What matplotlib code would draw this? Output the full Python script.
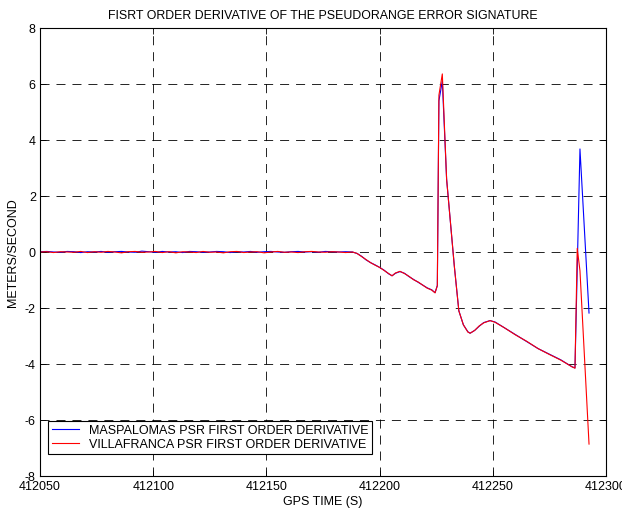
import matplotlib
matplotlib.use("Agg")
import matplotlib.pyplot as plt
import numpy as np

plt.rcParams['font.family'] = ['Liberation Sans', 'DejaVu Sans']
plt.rcParams['lines.scale_dashes'] = False

# Flat segment (sampled every 3 s)
flat_t = list(range(412050, 412189, 3))
flat_m = [0.01, 0.02, 0.00, -0.01, 0.02, 0.01, -0.02, 0.01, 0.00, 0.02, -0.01, 0.01,
          0.02, 0.00, -0.01, 0.03, 0.01, -0.01, 0.02, 0.00, 0.01, -0.02, 0.02, 0.01,
          -0.01, 0.00, 0.02, 0.01, -0.02, 0.01, 0.00, 0.02, -0.01, 0.01, 0.02, 0.00,
          -0.01, 0.01, 0.02, 0.00, 0.01, -0.01, 0.02, 0.01, 0.00, 0.01, 0.00]
flat_v = [0.00, 0.01, -0.02, 0.01, 0.00, -0.01, 0.02, -0.02, 0.01, -0.01, 0.02, 0.00,
          -0.03, 0.01, 0.02, -0.01, 0.00, 0.02, -0.02, 0.01, -0.03, 0.01, 0.00, -0.02,
          0.02, -0.01, 0.00, -0.03, 0.01, 0.02, -0.02, 0.00, 0.01, -0.03, 0.00, 0.02,
          -0.01, 0.00, -0.02, 0.01, 0.02, 0.00, -0.01, 0.01, 0.00, -0.02, 0.00]

# Dynamic segment
dyn_t = [412190, 412192, 412194, 412196, 412198, 412200, 412202, 412204, 412205.5,
         412207, 412209, 412211, 412213, 412215, 412217, 412219, 412221, 412223,
         412224.5, 412225.5, 412226.2, 412227.7, 412229.6, 412233, 412235, 412237,
         412239, 412240, 412242, 412244, 412246, 412248.8, 412251, 412255, 412260,
         412265, 412270, 412275, 412280, 412285, 412286.3]
dyn_m = [-0.05, -0.15, -0.28, -0.38, -0.46, -0.55, -0.65, -0.78, -0.85,
         -0.76, -0.70, -0.76, -0.88, -0.98, -1.08, -1.18, -1.28, -1.35,
         -1.45, -1.20, 5.40, 6.10, 2.60, -0.50, -2.10, -2.60,
         -2.85, -2.90, -2.80, -2.65, -2.52, -2.45, -2.50, -2.70, -2.95,
         -3.20, -3.45, -3.65, -3.85, -4.10, -4.14]
dyn_v = [-0.05, -0.16, -0.27, -0.38, -0.47, -0.55, -0.66, -0.77, -0.85,
         -0.75, -0.69, -0.77, -0.87, -0.99, -1.07, -1.18, -1.29, -1.36,
         -1.46, -1.20, 5.60, 6.36, 2.60, -0.50, -2.10, -2.60,
         -2.86, -2.90, -2.80, -2.64, -2.53, -2.45, -2.51, -2.70, -2.96,
         -3.19, -3.45, -3.66, -3.86, -4.10, -4.15]

# End segment
end_t_m = [412288.5, 412292.5]
end_m = [3.68, -2.18]
end_t_v = [412287.3, 412288.5, 412292.5]
end_v = [0.13, -0.67, -6.86]

t_m = flat_t + dyn_t + end_t_m
maspalomas = flat_m + dyn_m + end_m
t_v = flat_t + dyn_t + end_t_v
villafranca = flat_v + dyn_v + end_v

xticks = [412050, 412100, 412150, 412200, 412250, 412300]
yticks = [-8, -6, -4, -2, 0, 2, 4, 6, 8]

fig = plt.figure(figsize=(6.22, 5.10), dpi=100)
ax = fig.add_axes([40/622, 33/510, 566/622, 448/510])

ax.plot(t_m, maspalomas, color=(0, 0, 1), lw=0.8, label='MASPALOMAS PSR FIRST ORDER DERIVATIVE')
ax.plot(t_v, villafranca, color=(1, 0, 0), lw=0.8, label='VILLAFRANCA PSR FIRST ORDER DERIVATIVE')

ax.set_xlim(412050, 412300)
ax.set_ylim(-8, 8)
ax.set_xticks(xticks)
ax.set_yticks(yticks)
ax.set_xticklabels([str(x) for x in xticks])
ax.set_yticklabels([str(y) for y in yticks])
ax.tick_params(direction='in', top=True, right=True, labelsize=9, length=4, width=0.6, pad=3)
ax.grid(True, color='black', linestyle=(0, (6.5, 5)), linewidth=0.6)
for s in ax.spines.values():
    s.set_linewidth(0.8)

ax.set_title('FISRT ORDER DERIVATIVE OF THE PSEUDORANGE ERROR SIGNATURE', fontsize=8.9, pad=7)
ax.set_xlabel('GPS TIME (S)', fontsize=9, labelpad=2)
ax.set_ylabel('METERS/SECOND', fontsize=9, labelpad=4)

leg = ax.legend(loc='lower left', bbox_to_anchor=(0.014, 0.049), fontsize=9,
                frameon=True, fancybox=False, edgecolor='black', framealpha=1,
                handlelength=2.2, handletextpad=0.8, borderpad=0.3, labelspacing=0.15,
                borderaxespad=0)
leg.get_frame().set_linewidth(0.8)

fig.savefig('out.png', dpi=100)
